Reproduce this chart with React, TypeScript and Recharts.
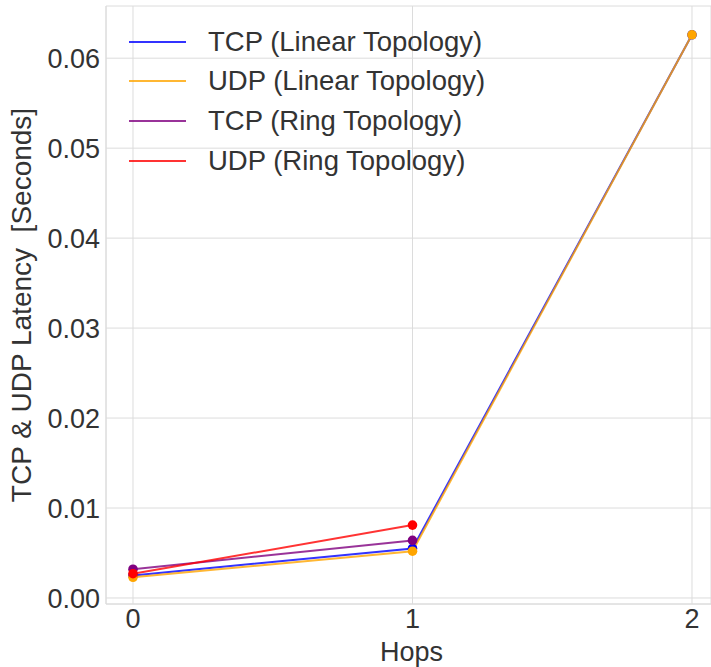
import { CartesianGrid, Line, LineChart, XAxis, YAxis } from "recharts";

const hops = [0, 1, 2];
const tcpLinear = [0.0025, 0.0055, 0.0626];
const udpLinear = [0.0023, 0.0052, 0.0626];
const tcpRing = [0.0032, 0.0064];
const udpRing = [0.0027, 0.0081];
const yTicks = [0, 0.01, 0.02, 0.03, 0.04, 0.05, 0.06];

const SERIES = [
  { key: "tcpLinear", name: "TCP (Linear Topology)", color: "#0000ff" },
  { key: "udpLinear", name: "UDP (Linear Topology)", color: "#ffa500" },
  { key: "tcpRing", name: "TCP (Ring Topology)", color: "#800080" },
  { key: "udpRing", name: "UDP (Ring Topology)", color: "#ff0000" },
];

const data = hops.map((h, i) => ({
  hop: h,
  tcpLinear: tcpLinear[i],
  udpLinear: udpLinear[i],
  tcpRing: tcpRing[i],
  udpRing: udpRing[i],
}));

const FONT = "'Liberation Sans', Arial, sans-serif";
const GRID = "#dcdcdc";
const TEXT = "#333333";

// legend sits inside the plot, top-left, drawn as plain html on top of the svg
function LegendBox() {
  return (
    <div
      style={{
        position: "absolute",
        left: 129,
        top: 22,
        fontFamily: FONT,
        fontSize: 27.5,
        color: TEXT,
        pointerEvents: "none",
      }}
    >
      {SERIES.map((s) => (
        <div key={s.key} style={{ display: "flex", alignItems: "center", height: 39.6 }}>
          <div style={{ width: 57, height: 2, background: s.color, opacity: 0.8, marginRight: 22 }} />
          <span style={{ whiteSpace: "nowrap" }}>{s.name}</span>
        </div>
      ))}
    </div>
  );
}

export default function App() {
  return (
    <div style={{ position: "absolute", left: 0, top: 0, width: 711, height: 667, background: "#fff" }}>
      <LineChart
        width={711}
        height={667}
        data={data}
        margin={{ top: 6, right: 0, left: 0, bottom: 0 }}
      >
        <CartesianGrid stroke={GRID} strokeWidth={1} />
        <XAxis
          dataKey="hop"
          type="number"
          domain={[-0.0966, 2.068]}
          ticks={[0, 1, 2]}
          allowDataOverflow
          height={63}
          tickSize={0}
          tickMargin={5}
          axisLine={{ stroke: GRID }}
          tick={{ fontSize: 27, fill: TEXT, fontFamily: FONT }}
          label={{ value: "Hops", position: "insideBottom", offset: 6, dx: 3, fontSize: 27, fill: TEXT, fontFamily: FONT }}
        />
        <XAxis
          xAxisId="top"
          dataKey="hop"
          type="number"
          orientation="top"
          domain={[-0.0966, 2.068]}
          allowDataOverflow
          height={0}
          tick={false}
          tickLine={false}
          axisLine={{ stroke: GRID }}
        />
        <YAxis
          type="number"
          domain={[-0.00067, 0.0658]}
          ticks={yTicks}
          allowDataOverflow
          width={106}
          tickSize={0}
          tickMargin={6}
          axisLine={{ stroke: GRID }}
          tickFormatter={(v: number) => v.toFixed(2)}
          tick={{ fontSize: 27, fill: TEXT, fontFamily: FONT }}
          label={{
            value: "TCP & UDP Latency\u00a0\u00a0[Seconds]",
            angle: -90,
            position: "insideLeft",
            offset: 27,
            dx: -6,
            style: { textAnchor: "middle" },
            fontSize: 28,
            fill: TEXT,
            fontFamily: FONT,
          }}
        />
        {SERIES.map((s) => (
          <Line
            key={s.key}
            type="linear"
            dataKey={s.key}
            name={s.name}
            stroke={s.color}
            strokeOpacity={0.8}
            strokeWidth={2}
            dot={{ r: 4.8, fill: s.color, stroke: s.color, strokeWidth: 0, fillOpacity: 1 }}
            activeDot={false}
            connectNulls={false}
            isAnimationActive={false}
          />
        ))}
      </LineChart>
      <LegendBox />
    </div>
  );
}
